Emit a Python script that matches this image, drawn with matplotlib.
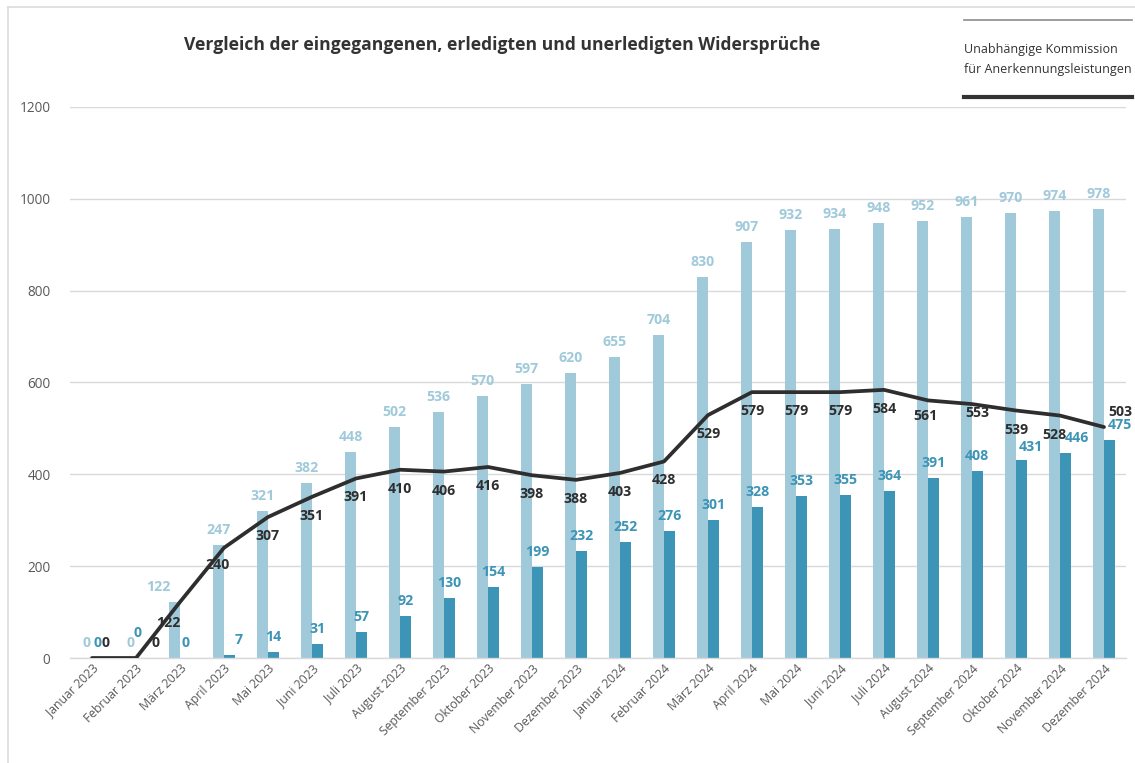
import matplotlib
matplotlib.use("Agg")
import matplotlib.pyplot as plt
from matplotlib.lines import Line2D
import numpy as np

months = ["Januar 2023", "Februar 2023", "März 2023", "April 2023", "Mai 2023", "Juni 2023",
          "Juli 2023", "August 2023", "September 2023", "Oktober 2023", "November 2023",
          "Dezember 2023", "Januar 2024", "Februar 2024", "März 2024", "April 2024",
          "Mai 2024", "Juni 2024", "Juli 2024", "August 2024", "September 2024",
          "Oktober 2024", "November 2024", "Dezember 2024"]
eingegangen = [0, 0, 122, 247, 321, 382, 448, 502, 536, 570, 597, 620,
               655, 704, 830, 907, 932, 934, 948, 952, 961, 970, 974, 978]
erledigt = [0, 0, 0, 7, 14, 31, 57, 92, 130, 154, 199, 232,
            252, 276, 301, 328, 353, 355, 364, 391, 408, 431, 446, 475]
unerledigt = [0, 0, 122, 240, 307, 351, 391, 410, 406, 416, 398, 388,
              403, 428, 529, 579, 579, 579, 584, 561, 553, 539, 528, 503]
y_ticks = [0, 200, 400, 600, 800, 1000, 1200]

LIGHT = "#A0CADA"
DARK = "#3C94B6"
LINE = "#2E2E2E"
GRID = "#D9D9D9"
TXT = "#595959"

W, H = 1135, 763
fig = plt.figure(figsize=(W / 100, H / 100), dpi=100)
ax = fig.add_axes([70 / W, (H - 658) / H, (1126 - 70) / W, (658 - 107) / H])

font = "Open Sans"
x = np.arange(len(months))
bw = 0.24
ax.bar(x - bw / 2, eingegangen, width=bw, color=LIGHT, zorder=2)
ax.bar(x + bw / 2, erledigt, width=bw, color=DARK, zorder=2)
ax.plot(x, unerledigt, color=LINE, lw=2.7, zorder=3, solid_capstyle="round")

ax.set_xlim(-0.5, len(months) - 0.5)
ax.set_ylim(0, 1200)
ax.set_yticks(y_ticks)
ax.set_yticklabels([str(v) for v in y_ticks], fontsize=9.8, color=TXT, family=font)
ax.tick_params(axis="y", length=0, pad=14)
ax.tick_params(axis="x", length=0, pad=3)
ax.set_xticks(x)
ax.set_xticklabels(months, rotation=45, ha="right", rotation_mode="anchor",
                   fontsize=8.8, color=TXT, family=font)
ax.grid(axis="y", color=GRID, lw=1, zorder=0)
for s in ["top", "right", "left"]:
    ax.spines[s].set_visible(False)
ax.spines["bottom"].set_color(GRID)
ax.spines["bottom"].set_linewidth(1)

# label offsets in pixels (dx, dy)
light_off = {2: (-16, 0)}
dark_off = {1: (-4, 10), 3: (9, 0), 21: (10, -2), 22: (12, 0), 23: (11, 0)}
line_off = {0: (14, 15), 1: (19, 15), 2: (-12, -21), 3: (-6, -17), 19: (-3, -16),
            20: (5, -9), 22: (-6, -19), 23: (16, 15)}

px = 72 / 100.0
lab_kw = dict(fontsize=10.2, fontweight="bold", family=font, ha="center", va="center",
              textcoords="offset points", zorder=5, annotation_clip=False)
for i, v in enumerate(eingegangen):
    dx, dy = light_off.get(i, (0, 0))
    ax.annotate(str(v), (x[i] - bw / 2, v), xytext=(dx * px, (15 + dy) * px),
                color=LIGHT, **lab_kw)
for i, v in enumerate(erledigt):
    dx, dy = dark_off.get(i, (0, 0))
    ax.annotate(str(v), (x[i] + bw / 2, v), xytext=(dx * px, (15 + dy) * px),
                color=DARK, **lab_kw)
for i, v in enumerate(unerledigt):
    dx, dy = line_off.get(i, (0, -19))
    ax.annotate(str(v), (x[i], v), xytext=(dx * px, dy * px), color=LINE, **lab_kw)

fig.text(502 / W, 1 - 45 / H, "Vergleich der eingegangenen, erledigten und unerledigten Widersprüche",
         ha="center", va="center", fontsize=12.6, fontweight="bold", color="#333333", family=font)

# logo block
fig.add_artist(Line2D([964 / W, 1132 / W], [1 - 20 / H, 1 - 20 / H], color="#8C8C8C", lw=1.2))
fig.add_artist(Line2D([964 / W, 1132 / W], [1 - 97 / H, 1 - 97 / H], color="#333333", lw=3))
fig.text(964 / W, 1 - 49 / H, "Unabhängige Kommission", ha="left", va="center",
         fontsize=9.0, color="#333333", family=font)
fig.text(964 / W, 1 - 69 / H, "für Anerkennungsleistungen", ha="left", va="center",
         fontsize=9.0, color="#333333", family=font)

# frame lines (left and top)
fig.add_artist(Line2D([8 / W, 8 / W], [0, 1 - 7 / H], color="#DCDCDC", lw=1.2))
fig.add_artist(Line2D([8 / W, 1], [1 - 7 / H, 1 - 7 / H], color="#DCDCDC", lw=1.2))

fig.savefig("out.png", dpi=100)
